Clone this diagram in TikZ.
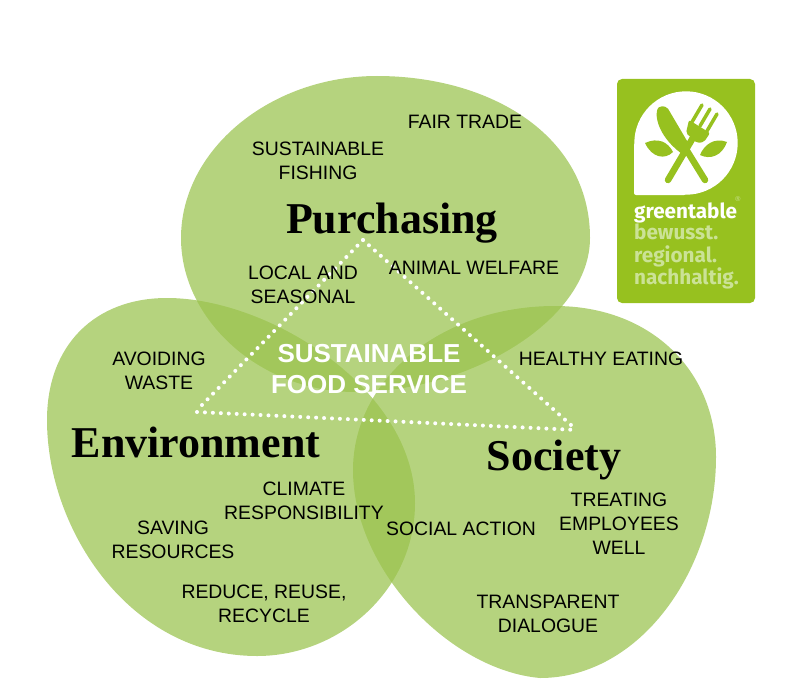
\documentclass[tikz,border=0pt]{standalone}
\usepackage{fontspec}
\setmainfont{Liberation Sans}
\newfontfamily\headfont{Liberation Serif}
\newfontfamily\logofont{Fira Sans}
\usepackage{xcolor}
\definecolor{blobgreen}{RGB}{154,195,78}
\definecolor{logogreen}{RGB}{151,193,31}
\definecolor{logopale}{RGB}{203,226,150}
\usetikzlibrary{calc,positioning}
\tikzset{
  blob/.style={fill=blobgreen,fill opacity=0.73},
  topic/.style={align=center,inner sep=0pt,yshift=-0.8pt,font=\fontsize{19.4}{24}\selectfont},
  head/.style={inner sep=0pt,anchor=base,font=\headfont\bfseries\fontsize{44}{48}\selectfont},
  corelabel/.style={align=center,inner sep=0pt,text=white,font=\bfseries\fontsize{26}{31}\selectfont},
  dots/.style={draw=white,line width=4pt,line cap=round,dash pattern=on 0pt off 7.95pt},
  logoline/.style={inner sep=0pt,anchor=base west,font=\logofont\bfseries\fontsize{20.7}{22}\selectfont},
}
\begin{document}
\begin{tikzpicture}[x=1pt,y=-1pt]
  \useasboundingbox (0,0) rectangle (794,698);
  % Circles
  \fill[blob] (377,76) .. controls (490,76) and (590,135) .. (590,238)
    .. controls (590,320) and (470,392) .. (355,392)
    .. controls (260,392) and (181,320) .. (181,238)
    .. controls (181,150) and (270,76) .. (377,76) -- cycle;
  \fill[blob] (167,298) .. controls (270,298) and (415,390) .. (415,503)
    .. controls (415,590) and (340,656) .. (257,656)
    .. controls (130,656) and (47,530) .. (47,420)
    .. controls (47,345) and (95,298) .. (167,298) -- cycle;
  \fill[blob] (555,306) .. controls (650,306) and (716,370) .. (716,457)
    .. controls (716,570) and (640,678) .. (540,678)
    .. controls (450,670) and (353,570) .. (353,470)
    .. controls (353,380) and (440,306) .. (555,306) -- cycle;
  % Triangle
  \coordinate (top) at (363,240);
  \coordinate (left) at (197,412);
  \coordinate (right) at (577,430);
  \draw[dots] (top) -- (201,406);
  \draw[dots] (left) -- (right);
  \draw[dots] (top) -- (571,425);
  % Headings
  \node[head] (purchasing) at (392,233) {Purchasing};
  \node[head] (environment) at (196,457) {Environment};
  \node[head] (society) at (554,470) {Society};
  \node[corelabel] (core) at (369,369) {SUSTAINABLE\\FOOD SERVICE};
  % Topics
  \node[topic] (fairtrade) at (465,121) {FAIR TRADE};
  \node[topic] (fishing) at (318,160) {SUSTAINABLE\\FISHING};
  \node[topic] (local) at (303,284) {LOCAL AND\\SEASONAL};
  \node[topic] (animal) at (474,267) {ANIMAL WELFARE};
  \node[topic] (waste) at (159,370) {AVOIDING\\WASTE};
  \node[topic] (healthy) at (601,358) {HEALTHY EATING};
  \node[topic] (climate) at (304,500) {CLIMATE\\RESPONSIBILITY};
  \node[topic] (saving) at (173,539) {SAVING\\RESOURCES};
  \node[topic] (social) at (461,528) {SOCIAL ACTION};
  \node[topic] (employees) at (619,523) {TREATING\\EMPLOYEES\\WELL};
  \node[topic] (reduce) at (264,603) {REDUCE, REUSE,\\RECYCLE};
  \node[topic] (dialogue) at (548,613) {TRANSPARENT\\DIALOGUE};
  % Logo
  \fill[logogreen,rounded corners=5pt] (617,79) rectangle (755,303);
  \fill[white] (686,143) circle [radius=51.7pt];
  \fill[white,rounded corners=2pt] (634,143) rectangle (686,195);
  % Knife and fork
  \draw[logogreen,line width=6.5pt,line cap=round] (705,180) -- (684,146);
  \fill[logogreen,rounded corners=2pt] (660,106) .. controls (654,112) and (656,134) .. (682,154)
    -- (690,146) -- (667,107) -- cycle;
  \draw[logogreen,line width=6.5pt,line cap=round] (668,180) -- (694,136);
  \fill[logogreen,rounded corners=2pt] (689,120) -- (710,133) -- (704,142) -- (697,143) -- (686,133) -- cycle;
  \draw[logogreen,line width=3.5pt,line cap=round] (692,122) -- (702,105);
  \draw[logogreen,line width=3.5pt,line cap=round] (700,126) -- (710,109);
  \draw[logogreen,line width=3.5pt,line cap=round] (707,131) -- (717,114);
  % Leaves
  \fill[logogreen] (645,143) .. controls (658,137) and (668,142) .. (673,152)
    .. controls (665,160) and (652,158) .. (645,143) -- cycle;
  \fill[logogreen] (727,142) .. controls (714,137) and (704,145) .. (700,155)
    .. controls (710,160) and (722,156) .. (727,142) -- cycle;
  % Logo text
  \node[logoline,text=white] (brand) at (634,218) {greentable};
  \node[inner sep=0pt,text=logopale,font=\fontsize{7}{7}\selectfont] (mark) at (738,199) {®};
  \node[logoline,text=logopale] (aware) at (634,239) {bewusst.};
  \node[logoline,text=logopale] (regional) at (634,262) {regional.};
  \node[logoline,text=logopale] (lasting) at (634,284) {nachhaltig.};
\end{tikzpicture}
\end{document}
